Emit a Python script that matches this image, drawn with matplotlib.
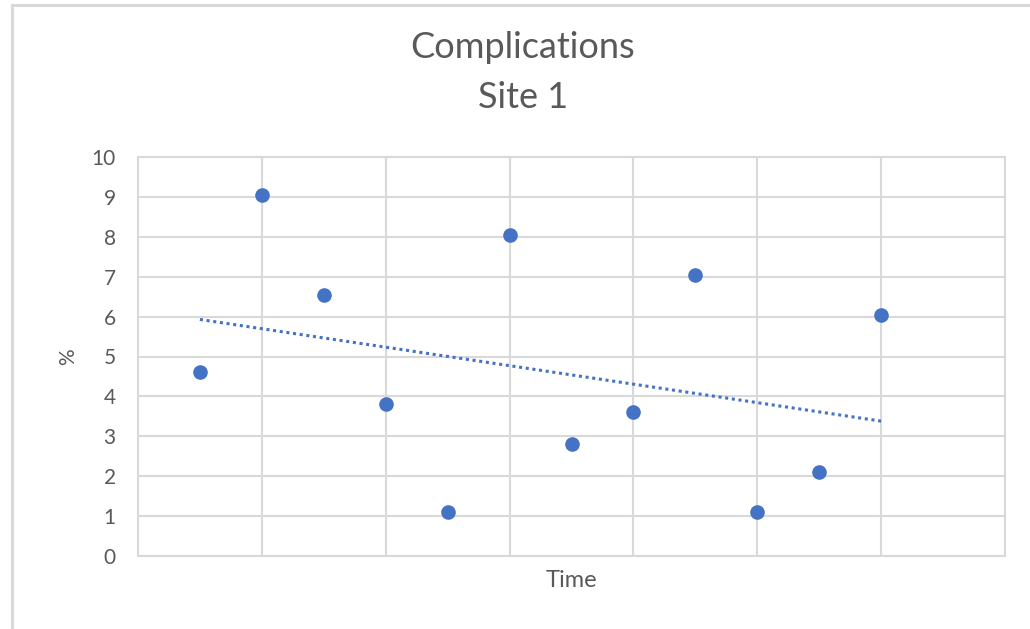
import matplotlib.pyplot as plt
import numpy as np
from matplotlib.lines import Line2D

plt.rcParams["font.family"] = ["Lato", "DejaVu Sans"]

# data
time = [0.5, 1.0, 1.5, 2.0, 2.5, 3.0, 3.5, 4.0, 4.5, 5.0, 5.5, 6.0]
pct = [4.6, 9.05, 6.55, 3.8, 1.1, 8.05, 2.8, 3.6, 7.05, 1.1, 2.1, 6.05]
y_ticks = list(range(0, 11))
x_ticks = list(range(0, 8))

BLUE = "#4472C4"
GRID = "#d9d9d9"
TXT = "#595959"

fig = plt.figure(figsize=(10.3, 6.29), dpi=100)
ax = fig.add_axes([138 / 1030, 1 - 556 / 629, (1005 - 138) / 1030, (556 - 157) / 629])

# outer chart border (left and top visible, rest clipped)
fig.add_artist(Line2D([12 / 1030, 12 / 1030], [0, 1 - 5 / 629], color=GRID,
                      linewidth=2.2, transform=fig.transFigure))
fig.add_artist(Line2D([12 / 1030, 1], [1 - 5 / 629, 1 - 5 / 629], color=GRID,
                      linewidth=2.2, transform=fig.transFigure))

ax.plot(time, pct, "o", color=BLUE, markersize=9.5, zorder=3)

# linear trendline
k, b = np.polyfit(time, pct, 1)
tx = np.array([time[0], time[-1]])
ax.plot(tx, k * tx + b, color=BLUE, linewidth=2.2, linestyle=(0, (1, 1.2)),
        zorder=2)

ax.set_xlim(0, 7)
ax.set_ylim(0, 10)
ax.set_xticks(x_ticks)
ax.set_xticklabels([])
ax.set_yticks(y_ticks)
ax.grid(True, color=GRID, linewidth=1.5)
ax.set_axisbelow(True)
for s in ax.spines.values():
    s.set_color(GRID)
    s.set_linewidth(1.5)
ax.tick_params(length=0, labelsize=15, labelcolor=TXT, pad=16)

ax.set_ylabel("%", fontsize=15, color=TXT, labelpad=10)
ax.set_xlabel("Time", fontsize=17, color=TXT, labelpad=-6)

fig.text(523 / 1030, 1 - 48 / 629, "Complications", ha="center", va="center",
         fontsize=26, color=TXT)
fig.text(523 / 1030, 1 - 97 / 629, "Site 1", ha="center", va="center",
         fontsize=26, color=TXT)

fig.savefig("out.png", dpi=100)
